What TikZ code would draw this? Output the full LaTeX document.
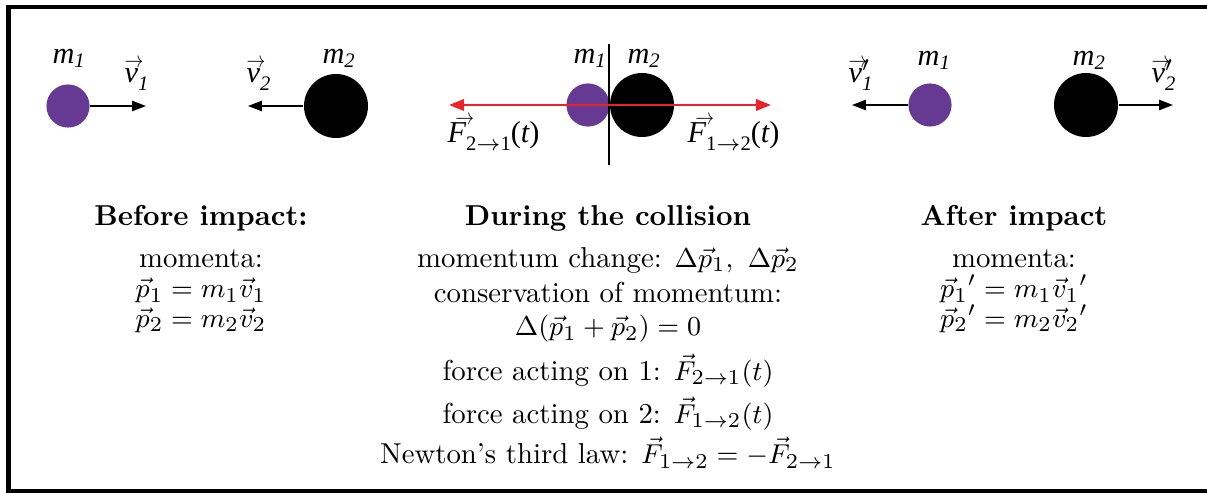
\documentclass[tikz,border=0pt]{standalone}
\usepackage{amsmath}
\usepackage{fontspec}
\usepackage{xcolor}
\usetikzlibrary{arrows.meta}
\newfontfamily\figfont{Liberation Serif}
\definecolor{ball_purple}{RGB}{102,57,146}
\definecolor{force_red}{RGB}{232,36,42}
% labels of the sketch (Times-like, italic)
\newcommand{\figsub}[2][-1pt]{\raisebox{#1}{\fontsize{6.8}{8}\selectfont #2}}
\newcommand{\figarrow}{\scalebox{0.62}[0.75]{$\rightarrow$}}
\newcommand{\figvec}[3][0pt]{\rlap{\hspace*{#1}\raisebox{#2}{\figarrow}}#3}
\newcommand{\figmass}[1]{m\figsub[-1pt]{#1}}
\newcommand{\figvel}[1]{\figvec{5.2pt}{v}\figsub[-2.6pt]{#1}}
\newcommand{\figvelp}[1]{\figvec{5.2pt}{v}\rlap{\raisebox{0.3pt}{$^{\prime}$}}\figsub[-2.6pt]{#1}}
\newcommand{\figforce}[2]{\figvec[2.6pt]{6.2pt}{F}\figsub[-2.6pt]{\upshape #1$\to$#2}{\upshape(}t{\upshape)}}

\begin{document}
\begin{tikzpicture}[x=0.0116cm, y=-0.0116cm,
    ball/.style={circle, inner sep=0pt, minimum size=#1},
    light/.style={ball=0.5cm, fill=ball_purple},
    heavy/.style={ball=0.742cm, fill=black},
    vel/.style={-{Triangle[length=4.6pt,width=3.4pt]}, line width=0.5pt},
    figlabel/.style={anchor=base west, inner sep=0pt,
      font=\figfont\itshape\fontsize{10}{12}\selectfont},
    column/.style={anchor=north, inner sep=0pt, align=center,
      font=\fontsize{9.5}{12.4}\selectfont}]
  \useasboundingbox (0,0) rectangle (1207,493);
  \draw[line width=1.4pt] (8.5,7) rectangle (1230,491.5);

  % before impact
  \node[light] (m1a) at (68,106) {};
  \node[heavy] (m2a) at (336,106) {};
  \coordinate (v1a) at (146,106);
  \coordinate (v2a) at (248,106);
  \draw[vel] (m1a) -- (v1a);
  \draw[vel] (m2a) -- (v2a);
  \node[figlabel] (m1aname) at (52,64) {\figmass{1}};
  \node[figlabel] (m2aname) at (322,64) {\figmass{2}};
  \node[figlabel] (v1aname) at (124,83) {\figvel{1}};
  \node[figlabel] (v2aname) at (246,83) {\figvel{2}};

  % during the collision
  \node[light] (m1b) at (588,105) {};
  \node[heavy] (m2b) at (642,105) {};
  \coordinate (top) at (609,44);
  \coordinate (bottom) at (609,165);
  \coordinate (f21) at (449,105);
  \coordinate (f12) at (771,105);
  \draw[line width=0.4pt] (top) -- (bottom);
  \draw[force_red, line width=0.8pt,
        {Triangle[length=5pt,width=3.8pt]}-{Triangle[length=5pt,width=3.8pt]}]
    (f21) -- (f12);
  \node[figlabel] (m1bname) at (573,64) {\figmass{1}};
  \node[figlabel] (m2bname) at (627,64) {\figmass{2}};
  \node[figlabel] (f21name) at (447,143) {\figforce{2}{1}};
  \node[figlabel] (f12name) at (687,143) {\figforce{1}{2}};

  % after impact
  \node[light] (m1c) at (930,105) {};
  \node[heavy] (m2c) at (1086,105) {};
  \coordinate (v1c) at (852,105);
  \coordinate (v2c) at (1173,105);
  \draw[vel] (m1c) -- (v1c);
  \draw[vel] (m2c) -- (v2c);
  \node[figlabel] (m1cname) at (917,66) {\figmass{1}};
  \node[figlabel] (m2cname) at (1072,66) {\figmass{2}};
  \node[figlabel] (v1cname) at (848,83) {\figvelp{1}};
  \node[figlabel] (v2cname) at (1151,83) {\figvelp{2}};

  % text below
  \node[column] (before) at (201,205)
    {\textbf{Before impact:}\\[1.3pt] momenta:\\[-2.3pt]
     $\vec{p}_1 = m_1\vec{v}_1$\\[-2.6pt] $\vec{p}_2 = m_2\vec{v}_2$};
  \node[column] (during) at (608,205)
    {\textbf{During the collision}\\[1.5pt]
     momentum change: $\Delta\vec{p}_1,\ \Delta\vec{p}_2$\\[-1pt]
     conservation of momentum:\\[-1.3pt]
     $\Delta(\vec{p}_1+\vec{p}_2)=0$\\[2.3pt]
     force acting on 1: $\vec{F}_{2\to1}(t)$\\[1.7pt]
     force acting on 2: $\vec{F}_{1\to2}(t)$\\[1pt]
     Newton's third law: $\vec{F}_{1\to2}=-\vec{F}_{2\to1}$};
  \node[column] (after) at (1014,205)
    {\textbf{After impact}\\[1.3pt] momenta:\\[-2.3pt]
     $\vec{p}_1{}' = m_1\vec{v}_1{}'$\\[-2.6pt] $\vec{p}_2{}' = m_2\vec{v}_2{}'$};
\end{tikzpicture}
\end{document}
